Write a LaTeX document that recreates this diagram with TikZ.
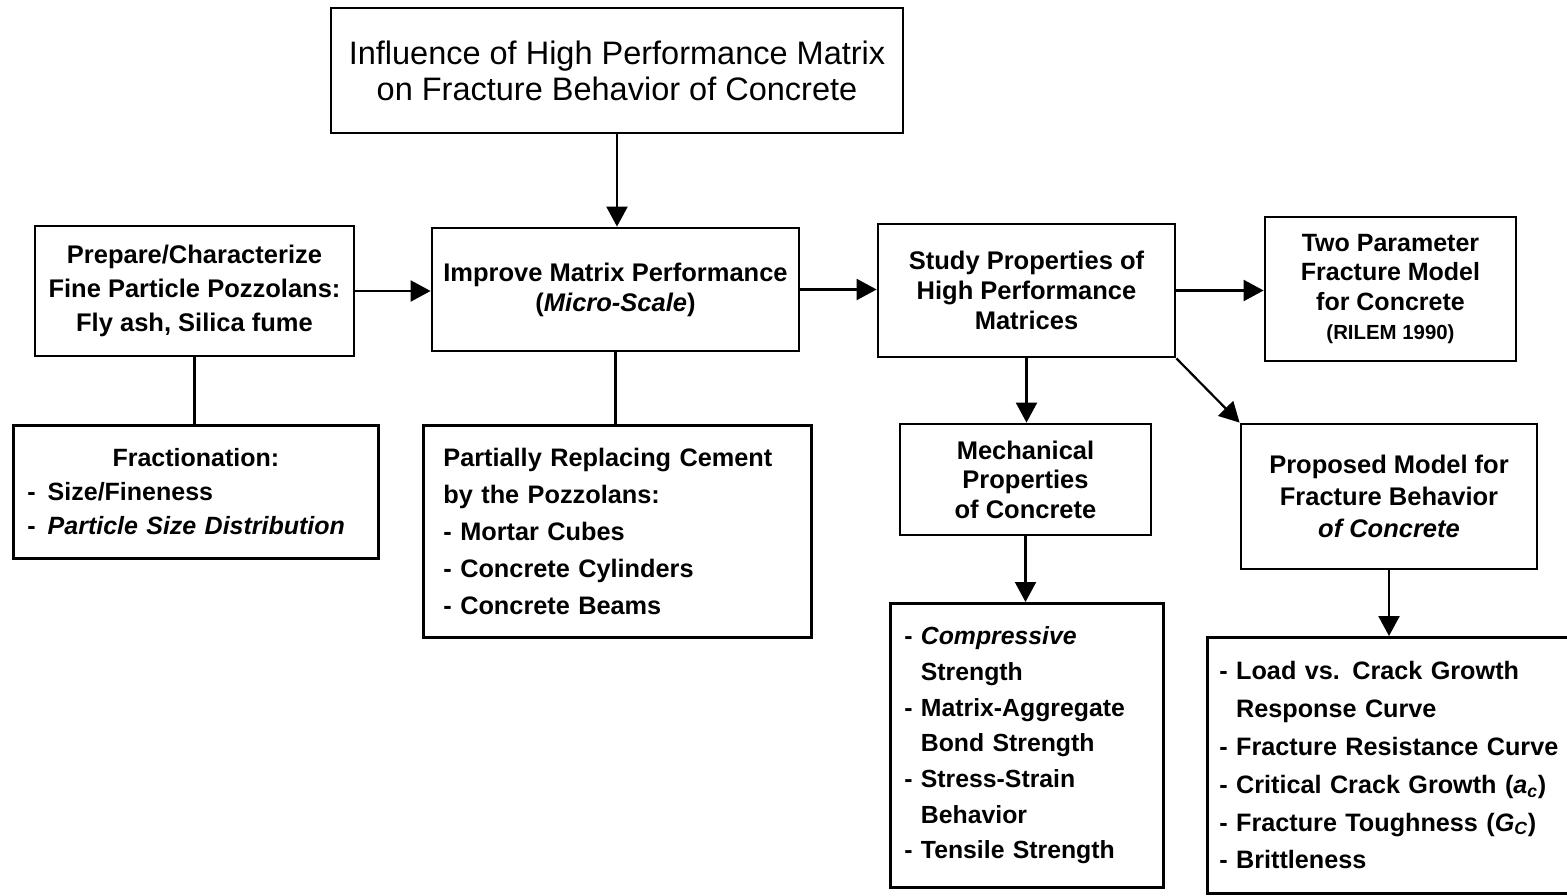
\documentclass[tikz,border=0pt]{standalone}
\usepackage{fontspec}
\setmainfont{Liberation Sans}
\usetikzlibrary{arrows.meta}
\newcommand{\fsz}[2]{\fontsize{#1}{#2}\selectfont}
\newcommand{\dsh}{\phantom{- }}
\tikzset{
  box/.style={draw, line width=2.8pt, inner sep=0pt, align=center, font=\bfseries},
  lbox/.style={draw, line width=2.8pt, inner ysep=0pt, align=left, anchor=north west, font=\bfseries},
  conn/.style={line width=2.2pt},
  arr/.style={line width=2.2pt, -{Triangle[length=20pt,width=21pt]}}
}
\begin{document}
\begin{tikzpicture}[x=1pt,y=-1pt]
\useasboundingbox (0,0) rectangle (1567,896);

\node[box, font=\fsz{32.5}{36}\selectfont, minimum width=572pt, minimum height=125pt] (title) at (617,70.5)
  {Influence of High Performance Matrix\\on Fracture Behavior of Concrete};

\node[box, font=\bfseries\fsz{25.5}{34}\selectfont, minimum width=319pt, minimum height=130pt] (prep) at (194.5,291)
  {Prepare/Characterize\\Fine Particle Pozzolans:\\Fly ash, Silica fume};

\node[box, font=\bfseries\fsz{25.5}{30}\selectfont, minimum width=367pt, minimum height=123pt] (impr) at (615.5,289.5)
  {Improve Matrix Performance\\(\textit{Micro-Scale})};

\node[box, font=\bfseries\fsz{25.5}{30}\selectfont, minimum width=297pt, minimum height=133pt] (study) at (1026.5,290.5)
  {Study Properties of\\High Performance\\Matrices};

\node[box, font=\bfseries\fsz{25}{29.3}\selectfont, minimum width=251pt, minimum height=144pt] (two) at (1390.5,289)
  {Two Parameter\\Fracture Model\\for Concrete\\{\fsz{20.4}{29.3}(RILEM 1990)}};

\node[lbox, font=\bfseries\fsz{25}{34}\selectfont, minimum width=365pt, minimum height=133pt, inner xsep=14pt, text width=337pt] (frac) at (12,424)
  {\makebox[\linewidth][c]{Fractionation:}\\
   -\hspace{12pt}Size/Fineness\\
   -\hspace{12pt}\textit{Particle Size Distribution}};

\node[lbox, font=\bfseries\fsz{25.3}{37}\selectfont, minimum width=388pt, minimum height=212pt, inner xsep=20pt, text width=348pt] (part) at (422,424)
  {Partially Replacing Cement\\by the Pozzolans:\\- Mortar Cubes\\- Concrete Cylinders\\- Concrete Beams};

\node[box, font=\bfseries\fsz{25.5}{29.5}\selectfont, minimum width=251pt, minimum height=111pt] (mech) at (1025.5,479.5)
  {Mechanical\\Properties\\of Concrete};

\node[box, font=\bfseries\fsz{25.5}{32}\selectfont, minimum width=296pt, minimum height=145pt] (prop) at (1389,496.5)
  {Proposed Model for\\Fracture Behavior\\\textit{of Concrete}};

\node[lbox, font=\bfseries\fsz{24.8}{35.7}\selectfont, minimum width=273pt, minimum height=284pt, inner xsep=14pt, text width=245pt] (mlist) at (889,602)
  {- \textit{Compressive}\\\dsh Strength\\- Matrix-Aggregate\\\dsh Bond Strength\\- Stress-Strain\\\dsh Behavior\\- Tensile Strength};

\node[lbox, font=\bfseries\fsz{25.2}{37.8}\selectfont, minimum width=380pt, minimum height=256pt, inner xsep=12pt, text width=356pt] (flist) at (1206,636)
  {- Load vs. Crack Growth\\\dsh Response Curve\\- Fracture Resistance Curve\\- Critical Crack Growth (\textit{a}\textsubscript{\textit{c}})\\- Fracture Toughness (\textit{G}\textsubscript{\textit{C}})\\- Brittleness};

\draw[arr] (title.south) -- (title.south |- impr.north);
\draw[arr] (prep.east) -- (prep.east -| impr.west);
\draw[arr] (impr.east) -- (impr.east -| study.west);
\draw[arr] (study.east) -- (study.east -| two.west);
\draw[conn] (prep.south) -- (prep.south |- frac.north);
\draw[conn] (impr.south) -- (impr.south |- part.north);
\draw[arr] (study.south) -- (study.south |- mech.north);
\draw[arr] (study.south east) -- (prop.north west);
\draw[arr] (mech.south) -- (mech.south |- mlist.north);
\draw[arr] (prop.south) -- (prop.south |- flist.north);
\end{tikzpicture}
\end{document}
